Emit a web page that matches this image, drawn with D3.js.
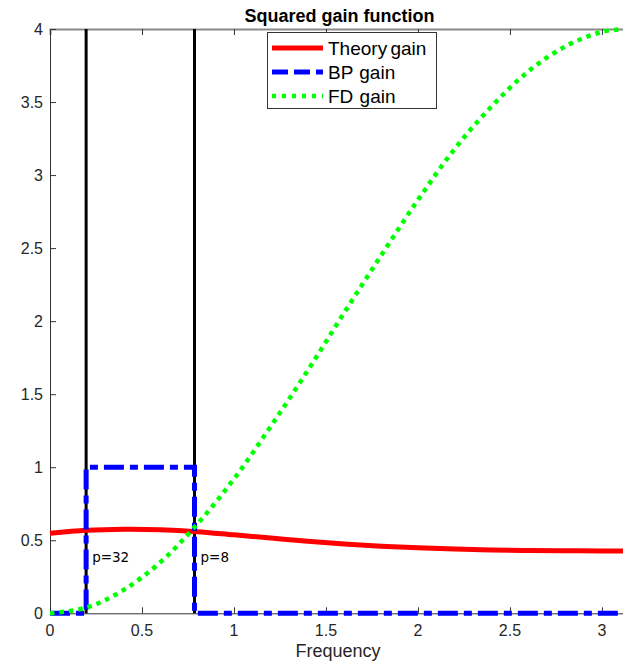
<!DOCTYPE html>
<html>
<head>
<meta charset="utf-8">
<script src="https://cdn.jsdelivr.net/npm/d3@7"></script>
<style>
  html, body { margin: 0; padding: 0; background: #fff; }
  svg { display: block; font-family: Arial, "Liberation Sans", Helvetica, sans-serif; }
</style>
</head>
<body>
<svg id="chart" width="623" height="663"></svg>
<script>
// Frequency grid (radians) and the three squared gain curves
const freqs = [0, 0.2, 0.4, 0.6, 0.8, 1.0, 1.2, 1.4, 1.6, 1.8, 2.0, 2.2, 2.4, 2.6, 2.8, 3.0, Math.PI];
const theoryGain = [0.548, 0.568, 0.575, 0.572, 0.559, 0.537, 0.515, 0.493, 0.474, 0.459, 0.448, 0.440, 0.434, 0.430, 0.428, 0.427, 0.427];
const fdGain = [0, 0.04, 0.16, 0.35, 0.61, 0.92, 1.28, 1.66, 2.06, 2.45, 2.83, 3.18, 3.47, 3.71, 3.88, 3.98, 4.0];

// Band-pass cut-offs: periods 32 and 8 -> frequencies 2*pi/p
const periods = [32, 8];
const cutoffs = periods.map(p => 2 * Math.PI / p);
const bpFreqs = [0, cutoffs[0], cutoffs[0], cutoffs[1], cutoffs[1], Math.PI];
const bpGain = [0, 0, 1, 1, 0, 0];

const xTicks = [0, 0.5, 1, 1.5, 2, 2.5, 3];
const yTicks = [0, 0.5, 1, 1.5, 2, 2.5, 3, 3.5, 4];
const seriesNames = ["Theory gain", "BP gain", "FD gain"];

const svg = d3.select("#chart");
const plotLeft = 50, plotRight = 628, plotTop = 29, plotBottom = 613.3;

const x = d3.scaleLinear().domain([0, Math.PI]).range([plotLeft, plotRight]);
const y = d3.scaleLinear().domain([0, 4]).range([plotBottom, plotTop]);

// Axes (ticks pointing inward, box on top)
const axisColor = "#333";
const fmt = d => String(d);

const xAxis = svg.append("g").attr("transform", `translate(0,${plotBottom})`)
  .call(d3.axisTop(x).tickValues(xTicks).tickSize(6).tickFormat(""));
xAxis.select(".domain").attr("stroke", axisColor);
xAxis.selectAll(".tick line").attr("stroke", axisColor);

svg.append("g").selectAll("text").data(xTicks).join("text")
  .attr("x", d => x(d)).attr("y", 636)
  .attr("text-anchor", "middle").attr("font-size", 16).attr("fill", "#262626")
  .text(fmt);

const xTop = svg.append("g").attr("transform", `translate(0,${plotTop})`)
  .call(d3.axisBottom(x).tickValues(xTicks).tickSize(6).tickFormat(""));
xTop.select(".domain").attr("stroke", "#8a8a8a").attr("stroke-width", 2);
xTop.selectAll(".tick line").attr("stroke", axisColor);

const yAxis = svg.append("g").attr("transform", `translate(${plotLeft},0)`)
  .call(d3.axisRight(y).tickValues(yTicks).tickSize(6).tickFormat(""));
yAxis.select(".domain").attr("stroke", axisColor);
yAxis.selectAll(".tick line").attr("stroke", axisColor);

svg.append("g").selectAll("text").data(yTicks).join("text")
  .attr("x", 43).attr("y", d => y(d) + 5.5)
  .attr("text-anchor", "end").attr("font-size", 16).attr("fill", "#262626")
  .text(fmt);

// Vertical markers at the band-pass cut-offs
svg.append("g").selectAll("line").data(cutoffs).join("line")
  .attr("x1", d => x(d)).attr("x2", d => x(d))
  .attr("y1", y(0)).attr("y2", y(4))
  .attr("stroke", "#000").attr("stroke-width", 3);

const line = d3.line().x(d => x(d[0])).y(d => y(d[1]));
const smooth = d3.line().x(d => x(d[0])).y(d => y(d[1])).curve(d3.curveCatmullRom);

// Theory gain
svg.append("path")
  .attr("d", smooth(d3.zip(freqs, theoryGain)))
  .attr("fill", "none").attr("stroke", "#ff0000").attr("stroke-width", 5);

// Band-pass gain (dash-dot)
svg.append("path")
  .attr("d", line(d3.zip(bpFreqs, bpGain)))
  .attr("fill", "none").attr("stroke", "#0000ff").attr("stroke-width", 5)
  .attr("stroke-dasharray", "20,6,8,6");

// First-difference gain (dotted)
svg.append("path")
  .attr("d", smooth(d3.zip(freqs, fdGain)))
  .attr("fill", "none").attr("stroke", "#00ff00").attr("stroke-width", 4.5)
  .attr("stroke-dasharray", "4.5,5");

// Cut-off period labels
svg.append("g").selectAll("text").data(periods).join("text")
  .attr("x", (d, i) => x(cutoffs[i]) + 6).attr("y", 561.5)
  .attr("font-family", "DejaVu Sans").attr("font-size", 13.5).attr("fill", "#000")
  .text(d => "p=" + d);

// Title and axis label
svg.append("text").attr("x", 339.5).attr("y", 22)
  .attr("text-anchor", "middle").attr("font-size", 18).attr("font-weight", "bold")
  .attr("fill", "#000").text("Squared gain function");

svg.append("text").attr("x", 338).attr("y", 656.5)
  .attr("text-anchor", "middle").attr("font-size", 18).attr("fill", "#262626")
  .text("Frequency");

// Legend
const legend = svg.append("g");
legend.append("rect").attr("x", 267.5).attr("y", 32.5).attr("width", 169).attr("height", 76)
  .attr("fill", "#fff").attr("stroke", "#333").attr("stroke-width", 1);
const styles = [
  { color: "#ff0000", dash: null, width: 5, gap: -2 },
  { color: "#0000ff", dash: "16,6", width: 5, gap: 1 },
  { color: "#00ff00", dash: "4,6", width: 4.5, gap: 1 }
];
const rows = legend.selectAll("g").data(seriesNames).join("g")
  .attr("transform", (d, i) => `translate(0,${48 + i * 24})`);
rows.append("line").attr("x1", 272).attr("x2", 323).attr("y1", 0).attr("y2", 0)
  .attr("stroke", (d, i) => styles[i].color)
  .attr("stroke-width", (d, i) => styles[i].width)
  .attr("stroke-dasharray", (d, i) => styles[i].dash);
rows.append("text").attr("x", 328).attr("y", 7)
  .attr("font-size", 19).attr("fill", "#000")
  .attr("word-spacing", (d, i) => styles[i].gap)
  .text(d => d);
</script>
</body>
</html>
